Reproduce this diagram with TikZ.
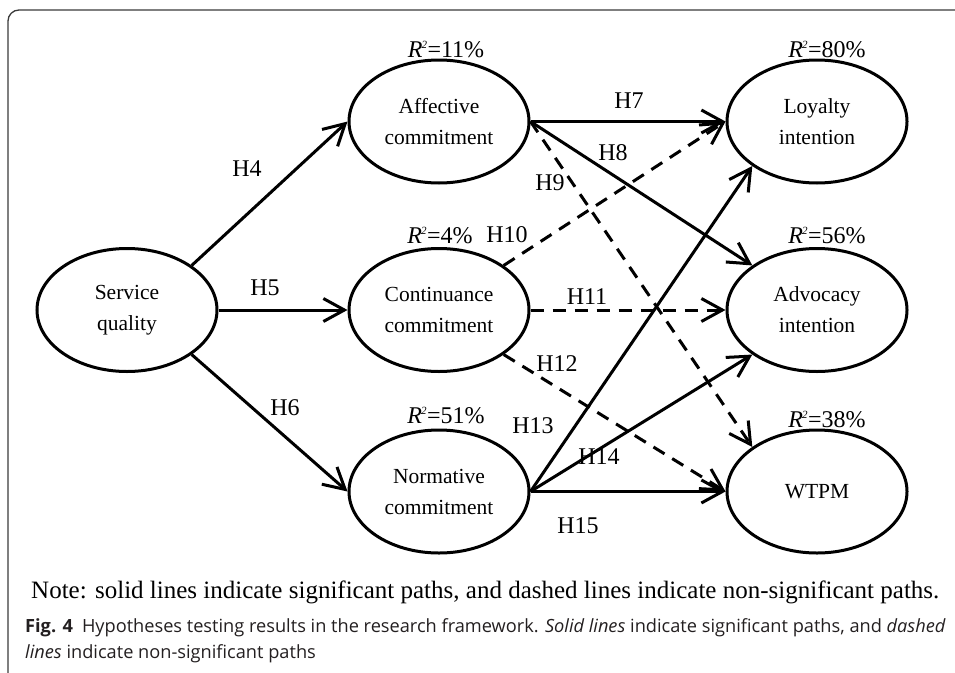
\documentclass[tikz,border=0pt]{standalone}
\usepackage{fontspec}
\setmainfont{Liberation Serif}
\newfontfamily\capfont{Open Sans}
\usetikzlibrary{arrows.meta,shapes.geometric}

\definecolor{framegray}{HTML}{3A3A3A}
\definecolor{captext}{HTML}{231F20}

\tikzset{
  construct/.style={ellipse, draw, line width=3pt, minimum width=180pt,
    minimum height=123pt, inner sep=0pt, align=center,
    font=\fontsize{21.5}{31}\selectfont},
  sigpath/.style={line width=3pt, -{Straight Barb[length=21pt,width=23pt,line width=3pt]}},
  nspath/.style={sigpath, dash pattern=on 13pt off 9pt},
  hyp/.style={anchor=base, inner sep=0pt, font=\fontsize{24}{24}\selectfont},
  rsq/.style={anchor=base, inner sep=0pt, font=\fontsize{24}{24}\selectfont},
}
\newcommand{\rsqval}[1]{\textit{R}\kern-1pt\raisebox{9pt}{\fontsize{11}{11}\selectfont\textit{2}}\kern0.5pt=#1\%}

\begin{document}
\begin{tikzpicture}[x=1pt,y=-1pt]
\useasboundingbox (0,0) rectangle (955,672);

% outer frame, running past the right and bottom edges
\draw[framegray, line width=1.3pt, rounded corners=11pt] (8,10) rectangle (990,705);

% constructs
\node[construct] (sq)  at (127,310)   {Service\\quality};
\node[construct] (ac)  at (439,121.5) {Affective\\commitment};
\node[construct] (cc)  at (439,310)   {Continuance\\commitment};
\node[construct] (nc)  at (439,491.5) {Normative\\commitment};
\node[construct] (li)  at (817,121.5) {Loyalty\\intention};
\node[construct] (ai)  at (817,310)   {Advocacy\\intention};
\node[construct] (wt)  at (817,491.5) {WTPM};

% explained variance
\node[rsq] (r-ac) at (446,57)  {\rsqval{11}};
\node[rsq] (r-cc) at (440,243) {\rsqval{4}};
\node[rsq] (r-nc) at (446,423) {\rsqval{51}};
\node[rsq] (r-li) at (827,57)  {\rsqval{80}};
\node[rsq] (r-ai) at (827,243) {\rsqval{56}};
\node[rsq] (r-wt) at (827,427) {\rsqval{38}};

% significant paths
\draw[sigpath] (sq.north east) -- (ac.west);
\draw[sigpath] (sq.east) -- (cc.west);
\draw[sigpath] (sq.south east) -- (nc.west);
\draw[sigpath] (ac.east) -- (li.west);
\draw[sigpath] (ac.east) -- (ai.north west);
\draw[sigpath] (nc.east) -- (li.south west);
\draw[sigpath] (nc.east) -- (ai.south west);
\draw[sigpath] (nc.east) -- (wt.west);

% non-significant paths
\draw[nspath] (ac.east) -- (wt.north west);
\draw[nspath] (cc.north east) -- (li.west);
\draw[nspath] (cc.east) -- (ai.west);
\draw[nspath] (cc.south east) -- (wt.west);

% hypothesis labels
\node[hyp] (h4)  at (247,176) {H4};
\node[hyp] (h5)  at (265,295) {H5};
\node[hyp] (h6)  at (285,415) {H6};
\node[hyp] (h7)  at (629,108) {H7};
\node[hyp] (h8)  at (613,160) {H8};
\node[hyp] (h9)  at (550,190) {H9};
\node[hyp] (h10) at (507,242) {H10};
\node[hyp] (h11) at (587,304) {H11};
\node[hyp] (h12) at (557,371) {H12};
\node[hyp] (h13) at (533,433) {H13};
\node[hyp] (h14) at (599,464) {H14};
\node[hyp] (h15) at (578,533) {H15};

% note under the model
\node[anchor=base west, inner sep=0pt, font=\fontsize{25}{25}\selectfont] (note) at (31,598)
  {Note: solid lines indicate significant paths, and dashed lines indicate non-significant paths.};

% figure caption
\node[anchor=base west, inner sep=0pt, text=captext, font=\capfont\fontsize{18.2}{18.2}\selectfont] (cap1) at (25,632)
  {\textbf{Fig. 4}\enspace Hypotheses testing results in the research framework. \textit{Solid lines} indicate significant paths, and \textit{dashed}};
\node[anchor=base west, inner sep=0pt, text=captext, font=\capfont\fontsize{18.2}{18.2}\selectfont] (cap2) at (25,658)
  {\textit{lines} indicate non-significant paths};
\end{tikzpicture}
\end{document}
